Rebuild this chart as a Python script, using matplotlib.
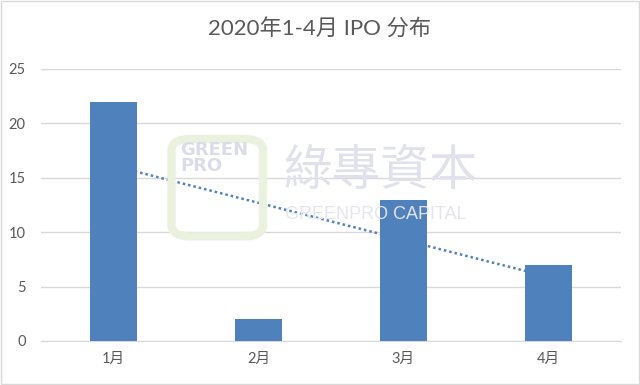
import numpy as np
import matplotlib
matplotlib.use("Agg")
import matplotlib.pyplot as plt
from matplotlib.patches import FancyBboxPatch

plt.rcParams['font.family'] = ['Lato', 'Noto Sans CJK SC', 'DejaVu Sans']

# 数据
months = ['1月', '2月', '3月', '4月']
ipo_counts = [22, 2, 13, 7]
title = '2020年1-4月 IPO 分布'

bar_color = '#4F81BD'
text_color = '#595959'
grid_color = '#D9D9D9'

fig = plt.figure(figsize=(6.4, 3.85), dpi=100)
ax = fig.add_axes([0.064, 0.1143, 0.906, 0.7065])

x = np.arange(len(months))
ax.bar(x, ipo_counts, width=0.32, color=bar_color, zorder=3)

# 线性趋势线
k, b = np.polyfit(x, ipo_counts, 1)
ax.plot(x[[0, -1]], k * x[[0, -1]] + b, color=bar_color, linestyle=(0, (1, 1.2)),
        linewidth=1.8, zorder=4)

ax.set_xlim(-0.5, len(months) - 0.5)
ax.set_ylim(0, 25)
ax.set_yticks(range(0, 26, 5))
ax.set_xticks(x)
ax.set_xticklabels(months)
ax.yaxis.grid(True, color=grid_color, linewidth=1, zorder=0)
for s in ['top', 'right', 'left']:
    ax.spines[s].set_visible(False)
ax.spines['bottom'].set_color(grid_color)
ax.tick_params(axis='both', length=0, colors=text_color, labelsize=10.5)
ax.tick_params(axis='x', pad=8)
ax.tick_params(axis='y', pad=11)

fig.text(0.5, 0.925, title, ha='center', va='center', fontsize=16, color=text_color)

# 水印
logo = FancyBboxPatch((0.272, 0.39), 0.135, 0.245, boxstyle='round,pad=0.004,rounding_size=0.03',
                      transform=fig.transFigure, facecolor='none', edgecolor='#EAF1DF',
                      linewidth=6, zorder=1)
fig.patches.append(logo)
fig.text(0.282, 0.59, 'GREEN\nPRO', fontsize=13, fontweight='black', color='#DADCE9',
         va='center', ha='left', linespacing=0.85, zorder=1, family=['DejaVu Sans'])
fig.text(0.443, 0.555, '綠專資本', fontsize=35, color='#E0E1EC', va='center', ha='left',
         family=['Noto Sans CJK TC', 'DejaVu Sans'], zorder=1)
fig.text(0.446, 0.443, 'GREENPRO CAPITAL', fontsize=13, color='#E4E5EE', va='center',
         ha='left', zorder=1, family=['Liberation Sans'])

# 外框
fig.patches.append(plt.Rectangle((0.002, 0.003), 0.996, 0.994, transform=fig.transFigure,
                                 fill=False, edgecolor='#D9D9D9', linewidth=1))

fig.savefig('out.png', dpi=100)
